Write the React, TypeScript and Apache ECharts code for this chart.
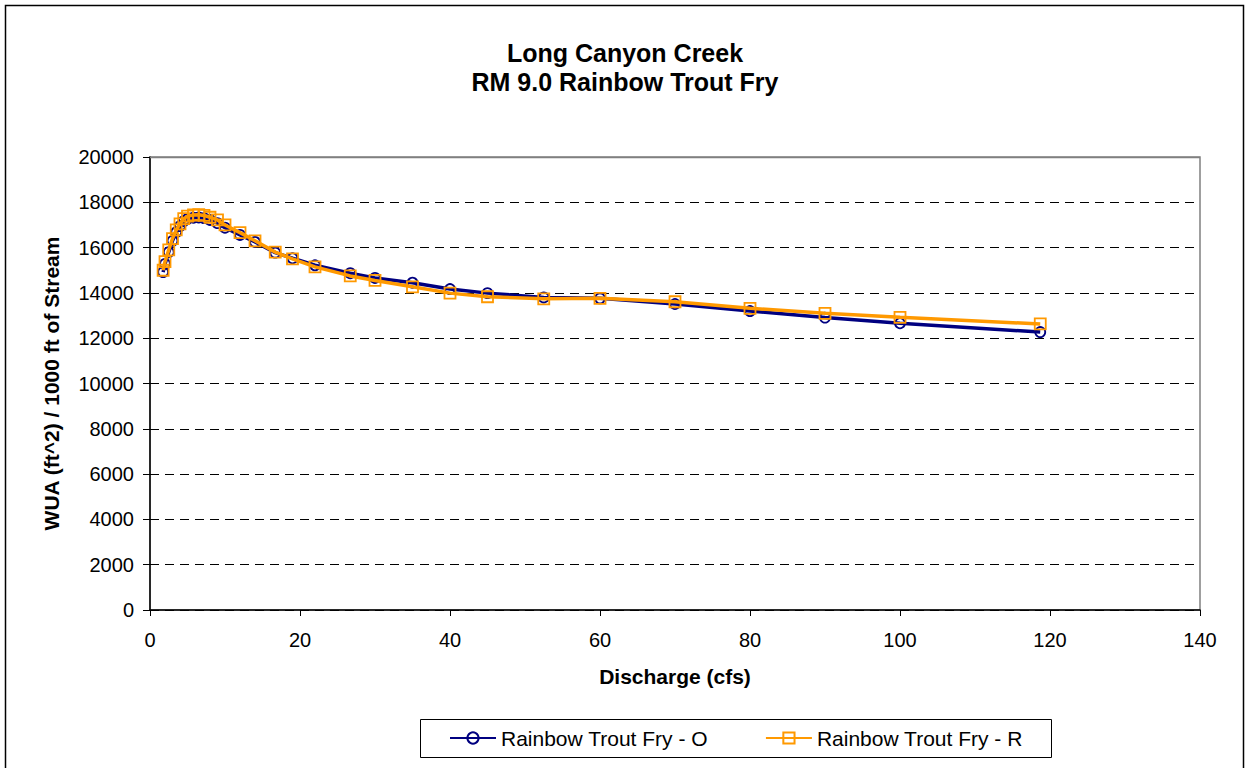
import React, { useEffect, useRef } from "react";
import * as echarts from "echarts";

const discharge = [1.75, 2, 2.5, 3, 3.5, 4, 4.5, 5, 5.8, 6.5, 7.2, 8, 9, 10, 12, 14, 16.7, 19, 22, 26.7, 30, 35, 40, 45, 52.5, 60, 70, 80, 90, 100, 118.7];
const wuaO = [14920, 15280, 15800, 16300, 16680, 16950, 17170, 17270, 17320, 17330, 17300, 17220, 17080, 16880, 16560, 16250, 15780, 15530, 15220, 14870, 14660, 14450, 14170, 13990, 13800, 13760, 13510, 13200, 12910, 12660, 12270];
const wuaR = [15000, 15380, 15900, 16400, 16780, 17050, 17280, 17390, 17440, 17450, 17420, 17340, 17220, 17000, 16660, 16300, 15800, 15500, 15150, 14750, 14550, 14270, 13990, 13830, 13740, 13760, 13610, 13320, 13100, 12920, 12630];
const seriesNames = ["Rainbow Trout Fry - O", "Rainbow Trout Fry - R"];
const titleLines = ["Long Canyon Creek", "RM 9.0 Rainbow Trout Fry"];
const xAxisName = "Discharge (cfs)";
const yAxisName = "WUA (ft^2) / 1000 ft of Stream";

const FONT = "'Liberation Sans', Arial, sans-serif";

export default function App() {
  const ref = useRef<HTMLDivElement>(null);
  useEffect(() => {
    if (!ref.current) return;
    const chart = echarts.init(ref.current, null, { renderer: "svg" });
    const pairs = (ys: number[]) => discharge.map((x, i) => [x, ys[i]]);
    chart.setOption({
      animation: false,
      backgroundColor: "#fff",
      textStyle: { fontFamily: FONT },
      graphic: [
        {
          type: "rect",
          shape: { x: 5.5, y: 5.5, width: 1238, height: 900 },
          style: { fill: "none", stroke: "#000", lineWidth: 1.5 },
          silent: true,
        },
        {
          type: "text",
          x: 625,
          y: 53,
          style: { text: titleLines[0], font: `bold 25px ${FONT}`, textAlign: "center", textVerticalAlign: "middle", fill: "#000" },
        },
        {
          type: "text",
          x: 625,
          y: 82,
          style: { text: titleLines[1], font: `bold 25px ${FONT}`, textAlign: "center", textVerticalAlign: "middle", fill: "#000" },
        },
        {
          type: "rect",
          shape: { x: 420.5, y: 719.5, width: 631, height: 38 },
          style: { fill: "#fff", stroke: "#000", lineWidth: 1 },
          z: -1,
          silent: true,
        },
        {
          type: "line",
          shape: { x1: 150, y1: 157.5, x2: 1200, y2: 157.5 },
          style: { stroke: "#808080", lineWidth: 1.5 },
          z: 10,
          silent: true,
        },
      ],
      grid: {
        left: 150,
        top: 157,
        width: 1050,
        height: 453,
        show: true,
        borderColor: "#808080",
        borderWidth: 1.5,
        backgroundColor: "transparent",
      },
      legend: {
        left: 449,
        top: 727,
        padding: 0,
        itemWidth: 46,
        itemHeight: 14,
        itemGap: 57,
        textStyle: { fontSize: 21, fontFamily: FONT, color: "#000", lineHeight: 22 },
        data: seriesNames,
      },
      xAxis: {
        type: "value",
        min: 0,
        max: 140,
        interval: 20,
        name: xAxisName,
        nameLocation: "middle",
        nameGap: 56,
        nameTextStyle: { fontSize: 21, fontWeight: "bold", color: "#000", fontFamily: FONT },
        axisLine: { onZero: false, lineStyle: { color: "#000", width: 1.5 } },
        axisTick: { show: true, inside: false, length: 6, lineStyle: { color: "#000" } },
        axisLabel: { fontSize: 20, color: "#000", margin: 20, fontFamily: FONT },
        splitLine: { show: false },
      },
      yAxis: {
        type: "value",
        min: 0,
        max: 20000,
        interval: 2000,
        name: yAxisName,
        nameLocation: "middle",
        nameGap: 88,
        nameTextStyle: { fontSize: 21, fontWeight: "bold", color: "#000", fontFamily: FONT },
        axisLine: { show: true, lineStyle: { color: "#000", width: 1.5 } },
        axisTick: { show: true, inside: false, length: 7, lineStyle: { color: "#000" } },
        axisLabel: { fontSize: 20, color: "#000", margin: 16, fontFamily: FONT, formatter: (v: number) => String(v) },
        splitLine: { show: true, lineStyle: { color: "#000", type: [9, 6], width: 1 } },
      },
      series: [
        {
          name: seriesNames[0],
          type: "line",
          data: pairs(wuaO),
          symbol: "circle",
          symbolSize: 10,
          lineStyle: { color: "#000080", width: 3.5 },
          itemStyle: { color: "rgba(255,255,255,0)", borderColor: "#000080", borderWidth: 1.8 },
          z: 2,
        },
        {
          name: seriesNames[1],
          type: "line",
          data: pairs(wuaR),
          symbol: "rect",
          symbolSize: 11,
          lineStyle: { color: "#FF9900", width: 3.5 },
          itemStyle: { color: "rgba(255,255,255,0)", borderColor: "#FF9900", borderWidth: 1.8 },
          z: 3,
        },
      ],
    });
    return () => chart.dispose();
  }, []);
  return (
    <div
      ref={ref}
      style={{ position: "fixed", left: 0, top: 0, width: 1246, height: 768 }}
    />
  );
}
